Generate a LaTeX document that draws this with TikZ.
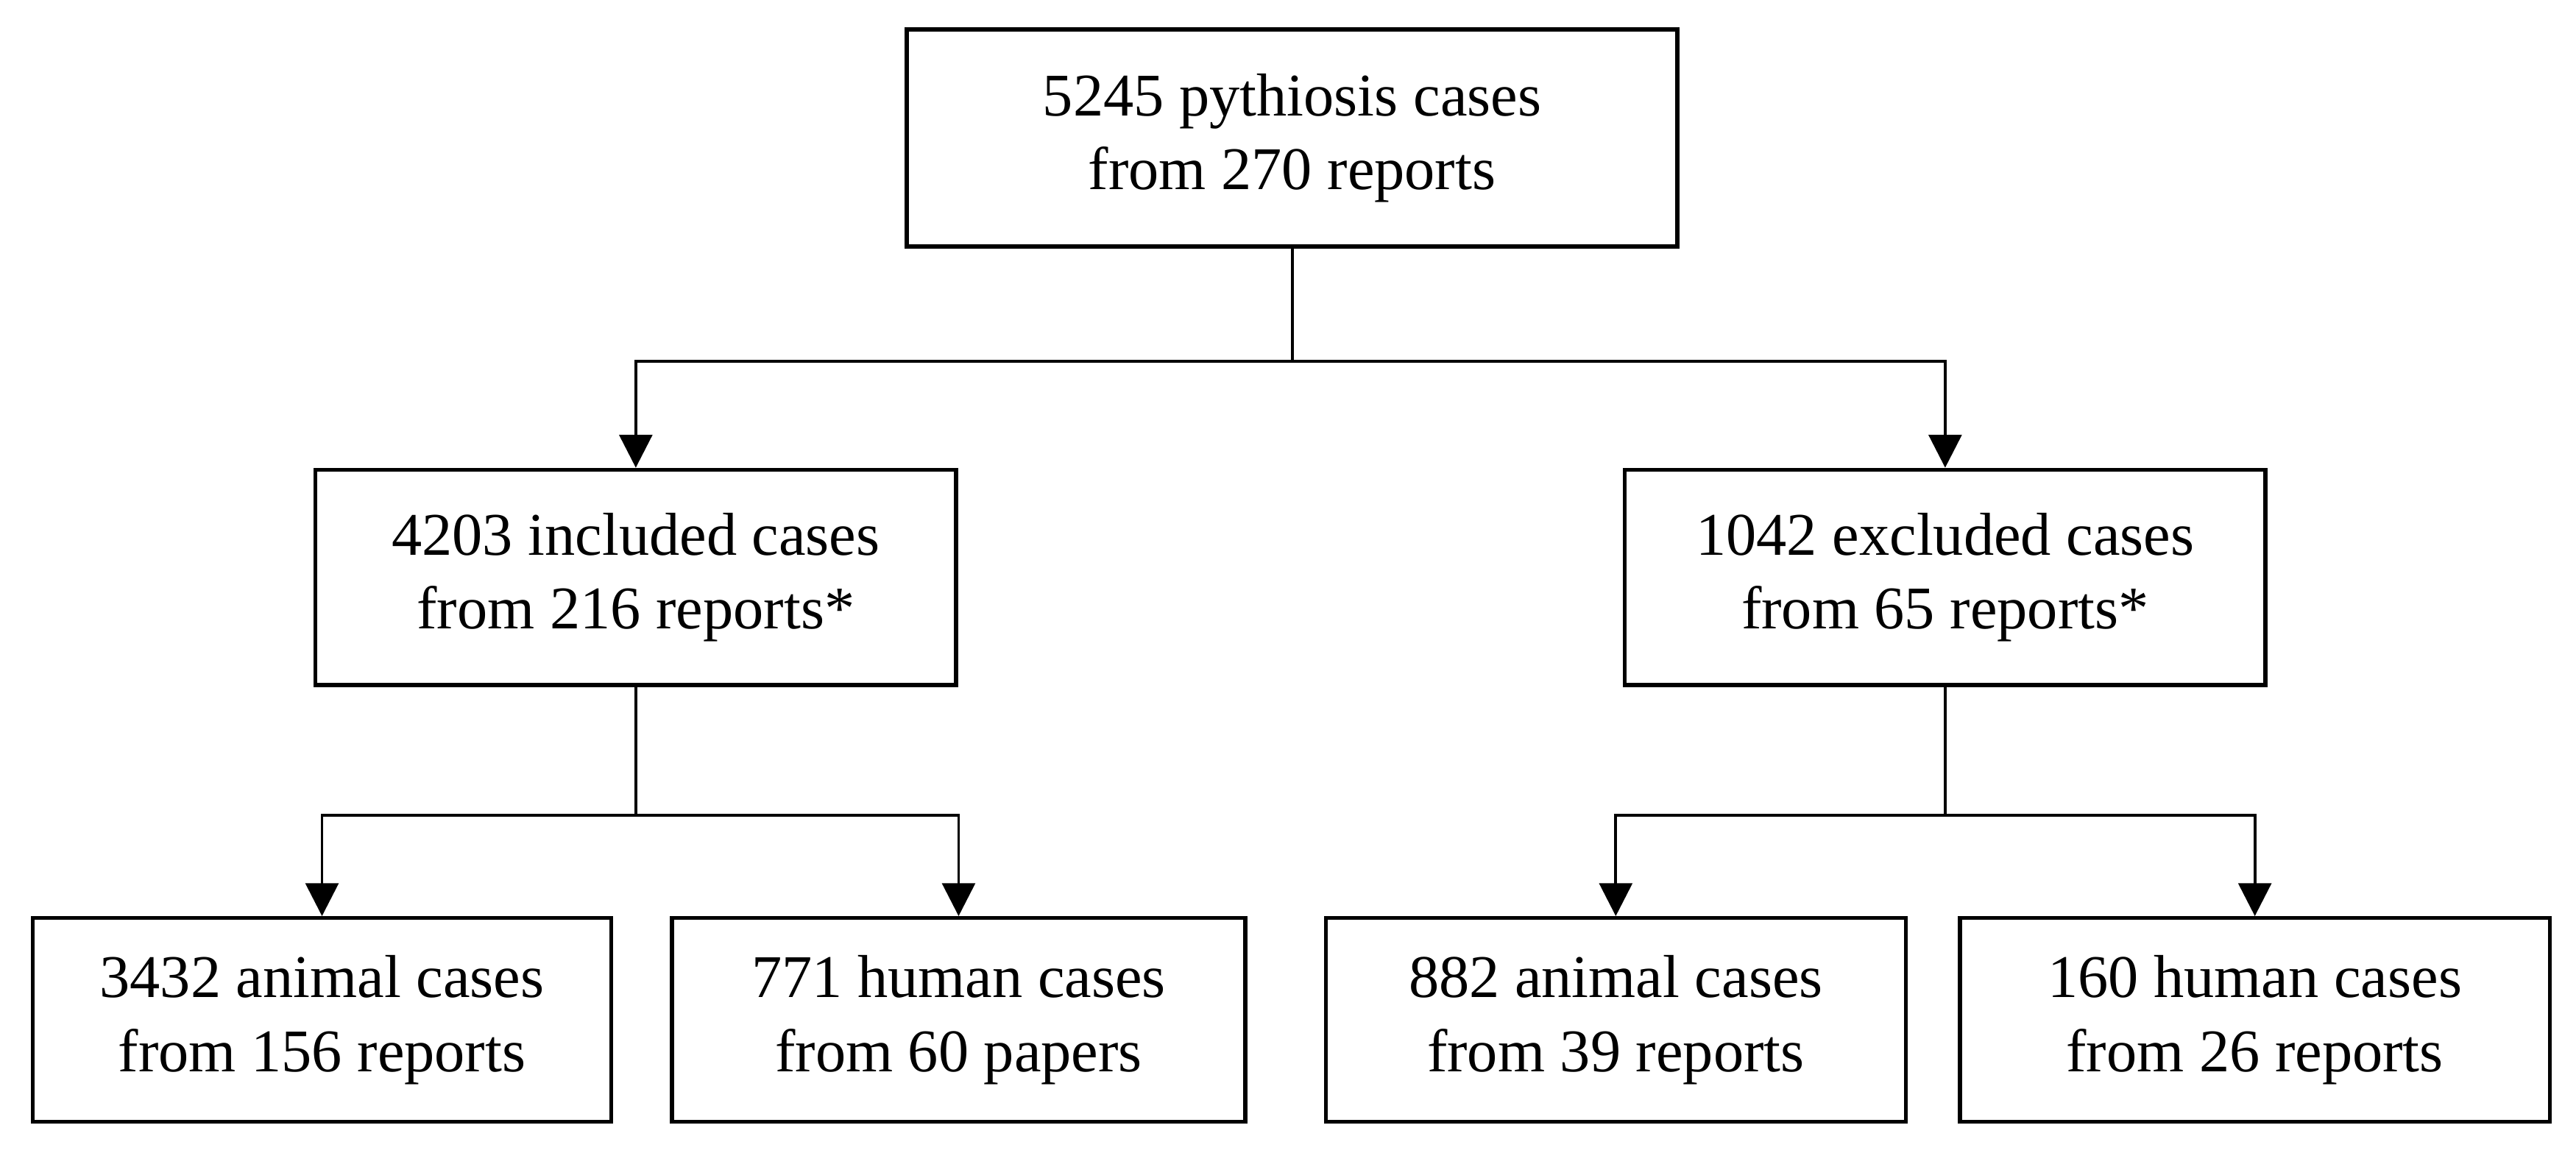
\documentclass[tikz,border=0pt]{standalone}
\usepackage{fontspec}
\setmainfont{Liberation Serif}
\usetikzlibrary{arrows.meta}
\begin{document}
\begin{tikzpicture}[>={Triangle[length=2mm,width=2mm]},
  box/.style={draw,line width=.7pt,align=center,inner sep=0pt,font=\fontsize{10.5}{12.8}\selectfont},
  link/.style={line width=.5pt}]
\useasboundingbox (0,0) rectangle (15.68,7.02);
\node[box,minimum width=4.69cm,minimum height=1.32cm](all) at (7.865,6.18){5245 pythiosis cases\\from 270 reports};
\node[box,minimum width=3.9cm,minimum height=1.31cm](inc) at (3.87,3.505){4203 included cases\\from 216 reports*};
\node[box,minimum width=3.9cm,minimum height=1.31cm](exc) at (11.84,3.505){1042 excluded cases\\from 65 reports*};
\node[box,minimum width=3.52cm,minimum height=1.24cm](incani) at (1.96,0.81){3432 animal cases\\from 156 reports};
\node[box,minimum width=3.49cm,minimum height=1.24cm](inchum) at (5.835,0.81){771 human cases\\from 60 papers};
\node[box,minimum width=3.53cm,minimum height=1.24cm](excani) at (9.835,0.81){882 animal cases\\from 39 reports};
\node[box,minimum width=3.59cm,minimum height=1.24cm](exchum) at (13.725,0.81){160 human cases\\from 26 reports};
\draw[link](all.south)--(7.865,4.82)coordinate(split);
\draw[link,->](split)-|(inc.north);
\draw[link,->](split)-|(exc.north);
\draw[link](inc.south)--++(0,-.78)coordinate(incsplit);
\draw[link,->](incsplit)-|(incani.north);
\draw[link,->](incsplit)-|(inchum.north);
\draw[link](exc.south)--++(0,-.78)coordinate(excsplit);
\draw[link,->](excsplit)-|(excani.north);
\draw[link,->](excsplit)-|(exchum.north);
\end{tikzpicture}
\end{document}
